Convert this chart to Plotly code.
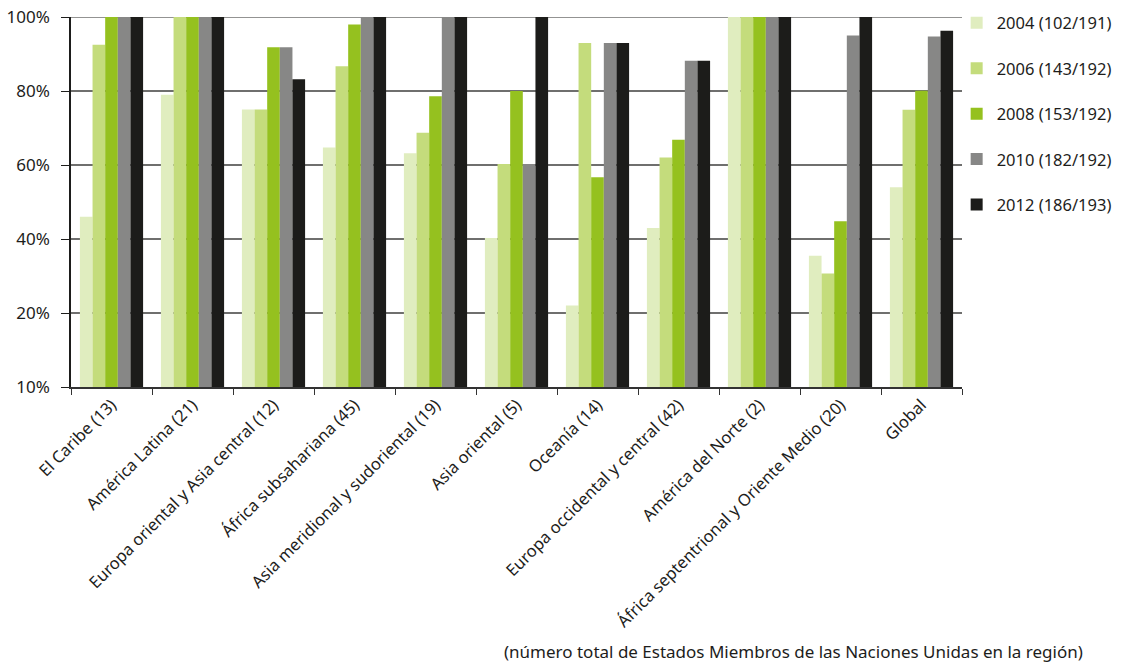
import plotly.graph_objects as go

categories = [
    "El Caribe (13)", "América Latina (21)", "Europa oriental y Asia central (12)",
    "África subsahariana (45)", "Asia meridional y sudoriental (19)", "Asia oriental (5)",
    "Oceanía (14)", "Europa occidental y central (42)", "América del Norte (2)",
    "África septentrional y Oriente Medio (20)", "Global",
]
series_names = ["2004 (102/191)", "2006 (143/192)", "2008 (153/192)", "2010 (182/192)", "2012 (186/193)"]
v2004 = [46, 79, 75, 64.7, 63.2, 40.3, 22, 43, 100, 35.5, 54]
v2006 = [92.5, 100, 75, 86.7, 68.7, 60.3, 93, 62, 100, 30.7, 74.9]
v2008 = [100, 100, 91.8, 98, 78.6, 80, 56.7, 66.8, 100, 44.8, 80.1]
v2010 = [100, 100, 91.8, 100, 100, 60.3, 93, 88.2, 100, 95, 94.7]
v2012 = [100, 100, 83.2, 100, 100, 100, 93, 88.2, 100, 100, 96.3]
y_tickvals = [0, 20, 40, 60, 80, 100]
y_ticktext = ["10%", "20%", "40%", "60%", "80%", "100%"]
colors = ["#e0edbf", "#c4dc7c", "#95c11f", "#878786", "#1c1c1a"]

fig = go.Figure()
for i, (name, vals) in enumerate(zip(series_names, [v2004, v2006, v2008, v2010, v2012])):
    fig.add_trace(go.Bar(x=categories, y=vals, name=name, marker_color=colors[i],
                         marker_line_width=0, legendgroup=name))

grid_color = "#6f6f6e"
font_family = "'Noto Sans', sans-serif"
fig.update_layout(
    width=1125, height=662,
    margin=dict(l=71, r=163, t=17, b=275, autoexpand=False),
    paper_bgcolor="white", plot_bgcolor="white",
    barmode="group", bargap=0.22, bargroupgap=0,
    font=dict(family=font_family, color="#1d1d1b", size=16),
    showlegend=True,
    legend=dict(x=0.994, y=1.031, xanchor="left", yanchor="top",
                font=dict(size=16.5, color="#1d1d1b"), tracegroupgap=21,
                itemwidth=30, bgcolor="rgba(0,0,0,0)"),
    xaxis=dict(tickangle=-45, tickson="boundaries", ticks="outside", ticklen=6,
               tickcolor="#333", showline=True, linecolor="#333", linewidth=1.5,
               tickfont=dict(size=16.5), showgrid=False, automargin=False),
    yaxis=dict(range=[0, 100], tickvals=y_tickvals, ticktext=y_ticktext,
               ticks="outside", ticklen=8, tickcolor="#1d1d1b", showline=True,
               linecolor="#1d1d1b", linewidth=1.5, showgrid=True, gridcolor=grid_color,
               gridwidth=1.5, zeroline=False, tickfont=dict(size=17), automargin=False,
               ticklabeloverflow="allow", ticklabelstandoff=8),
    shapes=[dict(type="line", xref="paper", yref="y", x0=0, x1=1, y0=100, y1=100,
                 line=dict(color=grid_color, width=1.5), layer="below")],
    annotations=[dict(text="(número total de Estados Miembros de las Naciones Unidas en la región)",
                      xref="paper", yref="paper", x=1.138, y=-0.7162, xanchor="right",
                      yanchor="middle", showarrow=False, font=dict(size=17, color="#1d1d1b"))],
)

fig.write_html("out.html", config={"displayModeBar": False},
               post_script="document.body.style.margin='0';")
